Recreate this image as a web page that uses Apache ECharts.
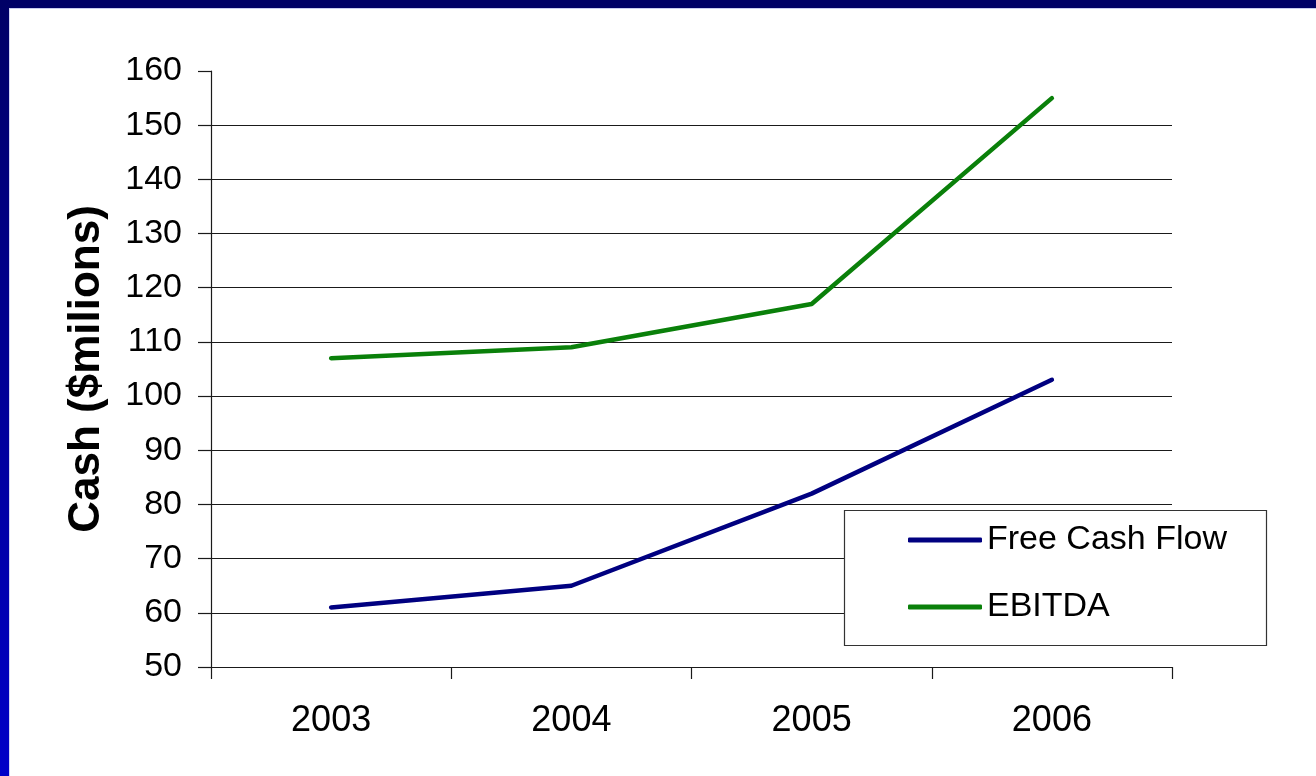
<!DOCTYPE html>
<html>
<head>
<meta charset="utf-8">
<script src="https://cdn.jsdelivr.net/npm/echarts@6/dist/echarts.min.js"></script>
<style>
  html, body { margin: 0; padding: 0; background: #ffffff; }
  #chart { width: 1316px; height: 776px; }
</style>
</head>
<body>
<div id="chart"></div>
<script>
// Years along the x axis
const years = ['2003', '2004', '2005', '2006'];
// Cash figures in $ millions
const freeCashFlow = [61, 65, 82, 103];
const ebitda = [107, 109, 117, 155];
// Value axis range
const yMin = 50;
const yMax = 160;
const yStep = 10;

const FONT = '"Liberation Sans", Arial, sans-serif';

// one grid line per tick; the bottom one sits under the axis and the top one is left out
const gridColors = [];
for (let v = yMin; v <= yMax; v += yStep) {
  gridColors.push(v === yMin || v === yMax ? 'rgba(0,0,0,0)' : '#1a1a1a');
}

const chart = echarts.init(document.getElementById('chart'), null, { renderer: 'canvas' });

chart.setOption({
  backgroundColor: '#ffffff',
  animation: false,
  graphic: [
    // slide frame: dark top band and a left band that brightens downwards
    { type: 'rect', z: 100, shape: { x: 0, y: 0, width: 1316, height: 8 }, style: { fill: '#000066' } },
    { type: 'rect', z: 100, shape: { x: 0, y: 8, width: 1316, height: 1 }, style: { fill: '#c9cbee' } },
    {
      type: 'rect', z: 101, shape: { x: 0, y: 0, width: 9, height: 776 },
      style: {
        fill: new echarts.graphic.LinearGradient(0, 0, 0, 1, [
          { offset: 0, color: '#000066' },
          { offset: 1, color: '#0000c8' }
        ])
      }
    },
    { type: 'rect', z: 101, shape: { x: 9, y: 9, width: 1, height: 767 }, style: { fill: '#d4d6f4' } },
    // legend box
    {
      type: 'rect', z: 50,
      shape: { x: 844.5, y: 510.5, width: 422, height: 135 },
      style: { fill: '#ffffff', stroke: '#333333', lineWidth: 1.2 }
    }
  ],
  grid: { left: 211, right: 144, top: 71, bottom: 109, containLabel: false },
  legend: {
    orient: 'vertical',
    left: 844,
    top: 510,
    padding: [10, 20, 10, 64],
    itemWidth: 74,
    itemHeight: 5,
    itemGap: 27,
    icon: 'roundRect',
    z: 60,
    textStyle: { fontFamily: FONT, fontSize: 34, color: '#000000', lineHeight: 40, padding: [0, 0, 0, 0] },
    data: ['Free Cash Flow', 'EBITDA']
  },
  xAxis: {
    type: 'category',
    data: years,
    boundaryGap: true,
    axisLine: { show: true, lineStyle: { color: '#1a1a1a', width: 1.2 } },
    axisTick: { show: true, length: 12, inside: false, alignWithLabel: false, lineStyle: { color: '#1a1a1a', width: 1.2 } },
    axisLabel: { fontFamily: FONT, fontSize: 36, color: '#000000', margin: 36 },
    splitLine: { show: false }
  },
  yAxis: {
    type: 'value',
    min: yMin,
    max: yMax,
    interval: yStep,
    name: 'Cash ($milions)',
    nameLocation: 'middle',
    nameGap: 102,
    nameRotate: 90,
    nameTextStyle: { fontFamily: FONT, fontSize: 44, fontWeight: 'bold', color: '#000000' },
    axisLine: { show: true, lineStyle: { color: '#1a1a1a', width: 1.2 } },
    axisTick: { show: true, length: 13, inside: false, lineStyle: { color: '#1a1a1a', width: 1.2 } },
    axisLabel: { fontFamily: FONT, fontSize: 34, color: '#000000', margin: 29 },
    splitLine: { show: true, lineStyle: { color: gridColors, width: 1.2 } }
  },
  series: [
    {
      name: 'Free Cash Flow',
      type: 'line',
      data: freeCashFlow,
      symbol: 'none',
      color: '#000080',
      lineStyle: { color: '#000080', width: 4.5, cap: 'round', join: 'round' },
      z: 10
    },
    {
      name: 'EBITDA',
      type: 'line',
      data: ebitda,
      symbol: 'none',
      color: '#0a800a',
      lineStyle: { color: '#0a800a', width: 4.5, cap: 'round', join: 'round' },
      z: 10
    }
  ]
});
</script>
</body>
</html>
